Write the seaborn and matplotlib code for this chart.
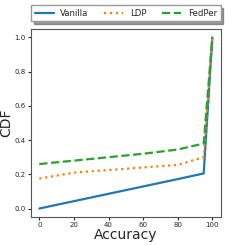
import pandas as pd
import numpy as np
import matplotlib
matplotlib.use('Agg')
import matplotlib.pyplot as plt
import seaborn as sns

# accuracy values (x) and CDF values per method
acc = [0, 20, 40, 60, 80, 95, 100]
vanilla = [0.0, 0.043, 0.086, 0.129, 0.172, 0.205, 1.0]
ldp = [0.175, 0.21, 0.225, 0.24, 0.255, 0.30, 1.0]
fedper = [0.26, 0.28, 0.30, 0.32, 0.345, 0.38, 1.0]

methods = ['Vanilla', 'LDP', 'FedPer']
df = pd.DataFrame({
    'Accuracy': acc * 3,
    'CDF': vanilla + ldp + fedper,
    'Method': np.repeat(methods, len(acc)),
})

sns.set_style('ticks')
fig, ax = plt.subplots(figsize=(2.45, 2.45), dpi=100)

styles = {'Vanilla': '-', 'LDP': ':', 'FedPer': '--'}
palette = sns.color_palette('tab10', 3)
for i, m in enumerate(methods):
    sub = df[df['Method'] == m]
    sns.lineplot(data=sub, x='Accuracy', y='CDF', ax=ax, label=m,
                 color=palette[i], linestyle=styles[m], linewidth=1.6)

ax.set_xlabel('Accuracy', fontsize=10, labelpad=0)
ax.set_ylabel('CDF', fontsize=10, labelpad=1)
ax.set_xticks([0, 20, 40, 60, 80, 100])
ax.set_yticks([0.0, 0.2, 0.4, 0.6, 0.8, 1.0])
ax.tick_params(labelsize=5, length=2, pad=1.5)
ax.set_xlim(-5, 105)
ax.set_ylim(-0.05, 1.05)
for s in ax.spines.values():
    s.set_color('#555555')
    s.set_linewidth(0.8)

ax.legend(loc='lower center', bbox_to_anchor=(0.5, 1.04), ncol=3,
          fontsize=6.2, frameon=True, fancybox=False,
          shadow={'color': '0.35', 'alpha': 0.6},
          handlelength=2.2, columnspacing=1.8, borderaxespad=0,
          edgecolor='#999999')

plt.subplots_adjust(left=0.125, right=0.902, bottom=0.114, top=0.882)
plt.savefig('out.png', dpi=100)
